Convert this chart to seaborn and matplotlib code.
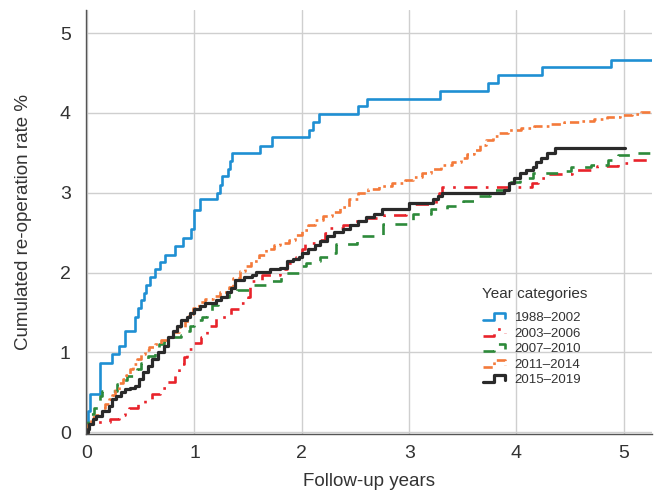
import numpy as np
import pandas as pd
import matplotlib
matplotlib.use("Agg")
import matplotlib.pyplot as plt
import seaborn as sns
from matplotlib.lines import Line2D
from matplotlib.legend_handler import HandlerLine2D

# ---------------- data ----------------
categories = ["1988–2002", "2003–2006", "2007–2010", "2011–2014", "2015–2019"]

x_1988 = [0, 0.005, 0.03, 0.12, 0.23, 0.30, 0.35, 0.45, 0.47, 0.50, 0.53, 0.55, 0.59, 0.63, 0.68,
          0.73, 0.82, 0.89, 0.97, 1.00, 1.05, 1.21, 1.235, 1.26, 1.31, 1.33, 1.35, 1.61, 1.72, 2.07,
          2.10, 2.16, 2.52, 2.61, 3.29, 3.73, 3.83, 4.24, 4.88, 5.26]
y_1988 = [0, 0.27, 0.48, 0.87, 0.98, 1.08, 1.27, 1.45, 1.56, 1.66, 1.75, 1.85, 1.95, 2.04, 2.13,
          2.22, 2.33, 2.43, 2.55, 2.78, 2.92, 3.00, 3.10, 3.21, 3.30, 3.40, 3.50, 3.59, 3.70, 3.79,
          3.88, 3.98, 4.08, 4.17, 4.28, 4.37, 4.47, 4.57, 4.66, 4.66]

x_2003 = [0, 0.01, 0.08, 0.21, 0.30, 0.35, 0.39, 0.47, 0.54, 0.60, 0.68, 0.74, 0.82, 0.86, 0.90,
          0.93, 1.00, 1.06, 1.12, 1.20, 1.34, 1.42, 1.50, 1.52, 1.63, 1.80, 1.86, 1.95, 2.00, 2.03,
          2.17, 2.22, 2.26, 2.38, 2.45, 2.60, 2.77, 2.97, 3.00, 3.02, 3.25, 3.28, 3.31, 4.14, 4.20,
          4.27, 4.52, 4.75, 4.95, 5.06, 5.24, 5.26]
y_2003 = [0, 0.10, 0.13, 0.17, 0.22, 0.27, 0.30, 0.36, 0.42, 0.48, 0.55, 0.63, 0.75, 0.85, 0.94,
          1.04, 1.12, 1.20, 1.33, 1.45, 1.54, 1.62, 1.69, 1.89, 1.97, 2.04, 2.12, 2.20, 2.30, 2.37,
          2.41, 2.50, 2.56, 2.60, 2.65, 2.68, 2.72, 2.76, 2.82, 2.86, 2.93, 3.00, 3.07, 3.12, 3.18,
          3.24, 3.29, 3.33, 3.37, 3.41, 3.45, 3.45]

x_2007 = [0, 0.01, 0.06, 0.12, 0.14, 0.28, 0.34, 0.37, 0.46, 0.50, 0.55, 0.57, 0.63, 0.67, 0.72,
          0.78, 0.87, 0.92, 0.96, 1.00, 1.07, 1.12, 1.16, 1.22, 1.25, 1.32, 1.40, 1.55, 1.72, 1.81,
          1.97, 2.04, 2.12, 2.17, 2.29, 2.32, 2.51, 2.76, 3.04, 3.20, 3.35, 3.50, 3.63, 3.75, 3.90,
          4.03, 4.15, 4.40, 4.51, 4.69, 4.85, 4.95, 5.11, 5.26]
y_2007 = [0, 0.23, 0.30, 0.45, 0.52, 0.60, 0.66, 0.71, 0.79, 0.87, 0.92, 0.96, 1.02, 1.10, 1.14,
          1.19, 1.22, 1.27, 1.33, 1.41, 1.45, 1.50, 1.60, 1.64, 1.70, 1.75, 1.78, 1.85, 1.89, 2.00,
          2.08, 2.12, 2.15, 2.20, 2.25, 2.36, 2.46, 2.61, 2.73, 2.80, 2.84, 2.90, 2.96, 3.04, 3.13,
          3.19, 3.25, 3.27, 3.32, 3.35, 3.41, 3.47, 3.50, 3.50]

x_2011 = [0, 0.005, 0.04, 0.08, 0.11, 0.14, 0.17, 0.20, 0.23, 0.26, 0.30, 0.33, 0.36, 0.40, 0.43,
          0.46, 0.50, 0.54, 0.58, 0.63, 0.69, 0.74, 0.80, 0.86, 0.91, 0.95, 0.99, 1.04, 1.10, 1.17,
          1.24, 1.32, 1.36, 1.42, 1.47, 1.53, 1.60, 1.67, 1.74, 1.80, 1.88, 1.94, 2.00, 2.06, 2.12,
          2.20, 2.28, 2.36, 2.44, 2.52, 2.62, 2.72, 2.84, 2.96, 3.04, 3.12, 3.20, 3.30, 3.40, 3.48,
          3.54, 3.60, 3.66, 3.72, 3.78, 3.84, 3.92, 4.04, 4.16, 4.30, 4.44, 4.58, 4.72, 4.84, 4.96,
          5.08, 5.16, 5.26]
y_2011 = [0, 0.12, 0.19, 0.22, 0.26, 0.30, 0.35, 0.42, 0.47, 0.53, 0.62, 0.67, 0.72, 0.79, 0.86,
          0.92, 0.98, 1.03, 1.07, 1.11, 1.16, 1.20, 1.26, 1.32, 1.40, 1.48, 1.56, 1.63, 1.67, 1.71,
          1.76, 1.82, 1.93, 2.02, 2.08, 2.15, 2.22, 2.29, 2.35, 2.37, 2.41, 2.47, 2.53, 2.60, 2.66,
          2.71, 2.76, 2.82, 2.92, 3.00, 3.05, 3.09, 3.12, 3.16, 3.20, 3.25, 3.30, 3.35, 3.39, 3.44,
          3.49, 3.54, 3.60, 3.66, 3.71, 3.75, 3.78, 3.81, 3.84, 3.86, 3.88, 3.90, 3.92, 3.95, 3.97,
          3.99, 4.01, 4.02]

x_2015 = [0, 0.005, 0.02, 0.05, 0.08, 0.14, 0.20, 0.23, 0.27, 0.32, 0.35, 0.40, 0.45, 0.48, 0.52,
          0.57, 0.60, 0.66, 0.72, 0.75, 0.80, 0.84, 0.87, 0.93, 0.96, 1.00, 1.05, 1.10, 1.20, 1.25,
          1.30, 1.34, 1.38, 1.46, 1.54, 1.57, 1.70, 1.80, 1.86, 1.92, 1.97, 2.00, 2.06, 2.12, 2.17,
          2.23, 2.30, 2.38, 2.45, 2.52, 2.60, 2.67, 2.75, 3.00, 3.22, 3.27, 3.31, 3.88, 3.93, 3.98,
          4.03, 4.09, 4.15, 4.18, 4.23, 4.28, 4.36, 5.01]
y_2015 = [0, 0.04, 0.10, 0.17, 0.21, 0.27, 0.33, 0.42, 0.46, 0.50, 0.54, 0.56, 0.58, 0.67, 0.75,
          0.83, 0.92, 1.00, 1.08, 1.20, 1.27, 1.33, 1.41, 1.45, 1.50, 1.54, 1.58, 1.62, 1.66, 1.70,
          1.76, 1.81, 1.91, 1.94, 1.97, 2.01, 2.04, 2.06, 2.14, 2.17, 2.20, 2.24, 2.29, 2.34, 2.40,
          2.46, 2.51, 2.55, 2.59, 2.64, 2.69, 2.74, 2.80, 2.87, 2.92, 2.96, 3.00, 3.04, 3.12, 3.19,
          3.25, 3.29, 3.32, 3.38, 3.44, 3.50, 3.56, 3.56]

x_ticks = [0, 1, 2, 3, 4, 5]
y_ticks = [0, 1, 2, 3, 4, 5]

# ---------------- styling ----------------
series = [
    (categories[0], x_1988, y_1988, "#1f8fd3", "-", 1.9),
    (categories[1], x_2003, y_2003, "#e8232b", (0, (5, 3.2, 1, 3.2)), 1.9),
    (categories[2], x_2007, y_2007, "#2d8a3a", (0, (4.5, 4)), 1.9),
    (categories[3], x_2011, y_2011, "#f47a3a", (0, (3.5, 1.6, 1, 1.6)), 1.9),
    (categories[4], x_2015, y_2015, "#2a2a2a", "-", 2.3),
]

sns.set_style("white")
plt.rcParams["font.family"] = ["Liberation Sans", "DejaVu Sans"]

fig = plt.figure(figsize=(6.57, 4.92), dpi=100)
ax = fig.add_axes([0.131, 0.118, 0.861, 0.862])

for name, xs, ys, col, ls, lw in series:
    df = pd.DataFrame({"x": xs, "y": ys})
    sns.lineplot(data=df, x="x", y="y", ax=ax, color=col, linestyle=ls, linewidth=lw,
                 drawstyle="steps-post", estimator=None, sort=False, legend=False)

ax.set_xlim(-0.01, 5.26)
ax.set_ylim(-0.02, 5.29)
ax.set_xticks(x_ticks)
ax.set_yticks(y_ticks)
ax.grid(True, color="#cfcfcf", linewidth=1.0)
ax.set_axisbelow(True)
for s in ["top", "right"]:
    ax.spines[s].set_visible(False)
for s in ["left", "bottom"]:
    ax.spines[s].set_color("#555555")
    ax.spines[s].set_linewidth(1.0)
ax.tick_params(axis="both", labelsize=14, colors="#333333", length=0)
ax.tick_params(axis="y", pad=11)
ax.tick_params(axis="x", pad=8)
ax.set_xlabel("Follow-up years", fontsize=13.5, color="#333333", labelpad=8)
ax.set_ylabel("Cumulated re-operation rate %", fontsize=13.5, color="#333333", labelpad=20)


class StepHandler(HandlerLine2D):
    def create_artists(self, legend, orig_handle, xdescent, ydescent, width, height,
                       fontsize, trans):
        xs = np.array([0, 0.5, 0.5, 1.0, 1.0]) * width - xdescent
        ys = np.array([0.1, 0.1, 0.85, 0.85, 0.35]) * height - ydescent
        line = Line2D(xs, ys)
        self.update_prop(line, orig_handle, legend)
        line.set_transform(trans)
        return [line]


handles = [Line2D([], [], color=col, linestyle=ls, linewidth=lw) for _, _, _, col, ls, lw in series]
leg = fig.legend(handles, categories, loc="upper left", bbox_to_anchor=(0.735, 0.366),
                 frameon=False, fontsize=9.5, borderpad=0, borderaxespad=0,
                 handlelength=1.7, handletextpad=0.7, labelspacing=0.25,
                 handler_map={Line2D: StepHandler()})
for t in leg.get_texts():
    t.set_color("#333333")
fig.text(0.734, 1 - 294 / 492, "Year categories", fontsize=11, color="#333333",
         ha="left", va="center")

fig.savefig("out.png", dpi=100)
